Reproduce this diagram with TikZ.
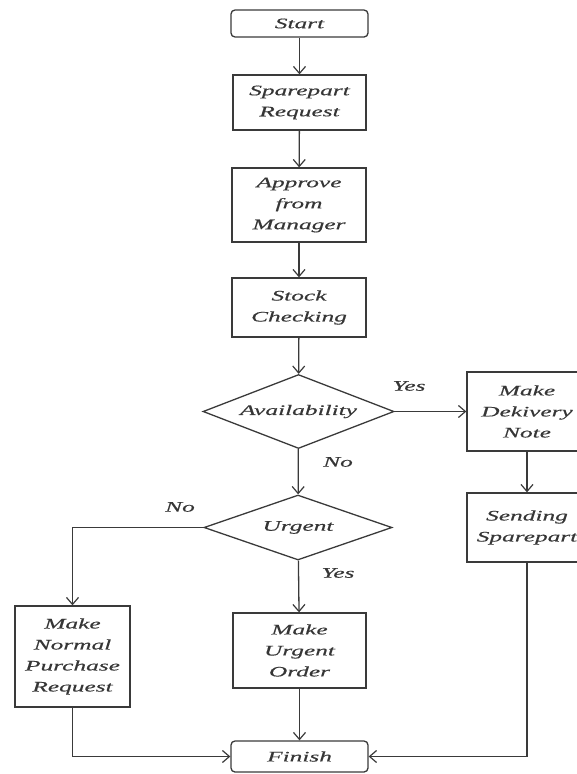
\documentclass[tikz,border=0pt]{standalone}
\usepackage{fontspec}
\newfontfamily\diafont{Liberation Serif}[FakeStretch=1.75, ItalicFeatures={FakeBold=0.4}]
\usetikzlibrary{shapes.geometric,arrows.meta}
\definecolor{ink}{HTML}{3A3A3A}
\definecolor{txt}{HTML}{363636}
\tikzset{
  base/.style={draw=ink, line width=1.3pt, inner sep=0pt, align=center,
    text=txt, font=\diafont\fontsize{14.5}{21}\selectfont\itshape},
  procbox/.style={base, rectangle},
  termbox/.style={base, rectangle, rounded corners=4pt},
  decbox/.style={base, diamond, aspect=2.6},
  flow/.style={draw=ink, line width=1.3pt, -{Straight Barb[length=7pt,width=12pt,line width=1.2pt]}},
  lbl/.style={text=txt, font=\diafont\fontsize{14.5}{16}\selectfont\itshape}
}
\begin{document}
\begin{tikzpicture}[x=1pt,y=-1pt]
  \useasboundingbox (0,0) rectangle (577,774);

  % main column
  \node[termbox, minimum width=137pt, minimum height=27pt] (start) at (299.5,23.5) {Start};
  \node[procbox, minimum width=133pt, minimum height=55pt] (req) at (299.5,102.5) {Sparepart\\Request};
  \node[procbox, minimum width=134pt, minimum height=74pt] (appr) at (299,205) {Approve\\from\\Manager};
  \node[procbox, minimum width=134pt, minimum height=59pt] (stock) at (299,307.5) {Stock\\Checking};
  \node[decbox, minimum width=191pt, minimum height=74pt] (avail) at (298.5,411.5) {Availability};
  \node[decbox, minimum width=188pt, minimum height=65pt] (urg) at (298,527.5) {Urgent};
  \node[procbox, minimum width=133pt, minimum height=75pt] (uord) at (299.5,650.5) {Make\\Urgent\\Order};
  \node[termbox, minimum width=137pt, minimum height=31pt] (fin) at (299.5,756.5) {Finish};

  % right branch
  \node[procbox, minimum width=120pt, minimum height=79pt] (deliv) at (527,411.5) {Make\\Dekivery\\Note};
  \node[procbox, minimum width=120pt, minimum height=69pt] (send) at (527,527.5) {Sending\\Sparepart};

  % left branch
  \node[procbox, minimum width=115pt, minimum height=101pt] (norm) at (72.5,656.5) {Make\\Normal\\Purchase\\Request};

  % connectors
  \draw[flow] (start) -- (req);
  \draw[flow] (req) -- (appr);
  \draw[flow] (appr) -- (stock);
  \draw[flow] (stock) -- (avail);
  \draw[flow] (avail.east) -- (deliv.west |- avail.east);
  \draw[flow] (avail) -- (urg);
  \draw[flow] (deliv) -- (send);
  \draw[flow] (urg) -- (uord);
  \draw[flow] (urg.west) -| (norm.north);
  \draw[flow] (uord) -- (fin);
  \draw[flow] (norm.south) |- (fin.west);
  \draw[flow] (send.south) |- (fin.east);

  % branch labels
  \node[lbl] (ya) at (409,386) {Yes};
  \node[lbl] (na) at (338,462) {No};
  \node[lbl] (nu) at (180,507) {No};
  \node[lbl] (yu) at (338,573) {Yes};
\end{tikzpicture}
\end{document}
